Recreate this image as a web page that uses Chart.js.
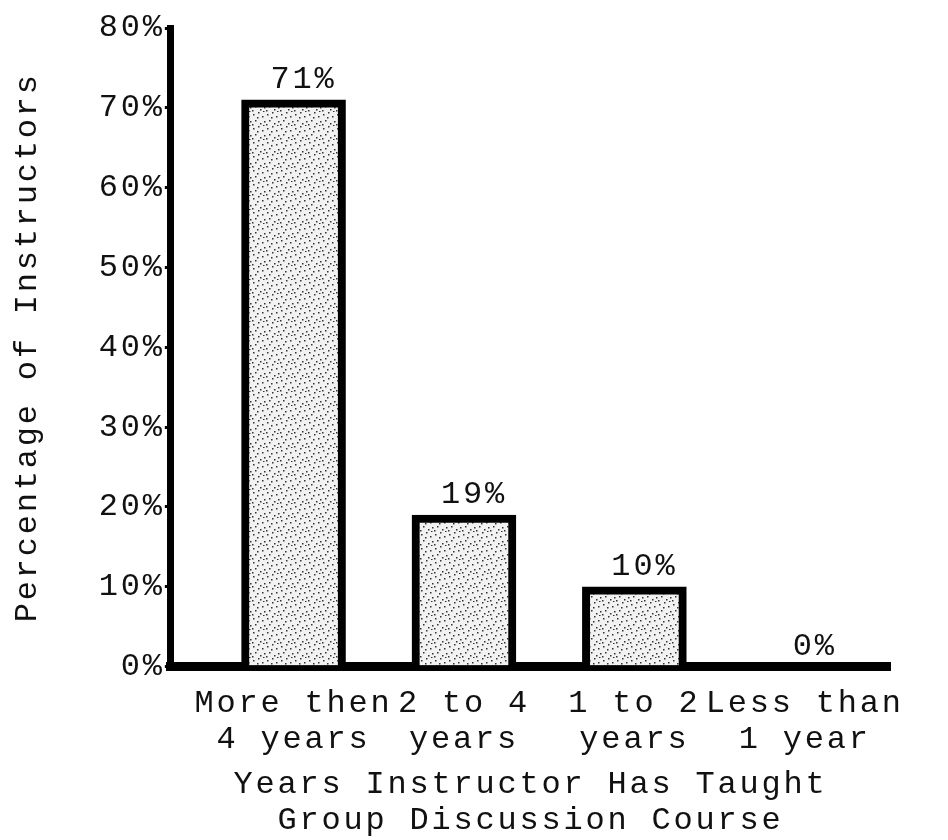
<!doctype html>
<html lang="en">
<head>
    <meta charset="utf-8">
    <title>Years Instructor Has Taught Group Discussion Course</title>
    <script src="https://cdn.jsdelivr.net/npm/chart.js"></script>
    <style>
        html, body { margin:0; padding:0; background:#fff; }
        #wrap { width:948px; height:840px; }
    </style>
</head>
<body>
<div id="wrap"><canvas id="chart-0"></canvas></div>
<script>
    // data
    const categories = [['More then','4 years'], ['2 to 4','years'], ['1 to 2','years'], ['Less than','1 year']];
    const percentValues = [71, 19, 10, 0];
    const yTicks = [0, 10, 20, 30, 40, 50, 60, 70, 80];
    const xTitle = ['Years Instructor Has Taught', 'Group Discussion Course'];
    const yTitle = 'Percentage of Instructors';

    const FONT = '"Liberation Mono", "DejaVu Sans Mono", monospace';
    const SPACING = '2.8px';
    Chart.defaults.font.family = FONT;
    Chart.defaults.font.size = 32;
    Chart.defaults.font.lineHeight = 1.12;
    Chart.defaults.color = '#111';

    // speckled fill like the scanned bars
    function makeStipple(){
        const c = document.createElement('canvas');
        c.width = 14; c.height = 14;
        const g = c.getContext('2d');
        g.fillStyle = '#f2f2f2';
        g.fillRect(0, 0, 14, 14);
        g.fillStyle = '#333';
        [[1,2],[6,0],[10,4],[3,8],[8,11],[12,9],[5,5],[0,12],[11,13]].forEach(([x,y]) => g.fillRect(x, y, 1.5, 1.5));
        return g.createPattern(c, 'repeat');
    }

    // wide typewriter look
    const typewriter = {
        id: 'typewriter',
        beforeLayout(chart){ chart.ctx.letterSpacing = SPACING; },
        beforeDraw(chart){ chart.ctx.letterSpacing = SPACING; }
    };

    const valueLabels = {
        id: 'valueLabels',
        afterDatasetsDraw(chart){
            const ctx = chart.ctx;
            const meta = chart.getDatasetMeta(0);
            ctx.save();
            ctx.letterSpacing = SPACING;
            ctx.font = '32px ' + FONT;
            ctx.fillStyle = '#111';
            ctx.textAlign = 'center';
            ctx.textBaseline = 'bottom';
            meta.data.forEach((bar, i) => {
                ctx.fillText(percentValues[i] + '%', bar.x + 10, bar.y - 4);
            });
            ctx.restore();
        }
    };

    const ctx = document.querySelector('canvas#chart-0');
    window.myChart0 = new Chart(ctx, {
        type: 'bar',
        data: {
            datasets: [{
                data: percentValues.map((v, i) => ({x: i, y: v})),
                backgroundColor: makeStipple(),
                borderColor: '#000',
                borderWidth: 8,
                barThickness: 104,
            }]
        },
        options: {
            responsive: true,
            maintainAspectRatio: false,
            animation: false,
            layout: {
                padding: {top: 28, right: 58, bottom: 2, left: 0}
            },
            plugins: {
                legend: {display: false},
                tooltip: {enabled: false},
            },
            scales: {
                x: {
                    type: 'linear',
                    min: -0.72,
                    max: 3.5,
                    offset: false,
                    afterBuildTicks: s => { s.ticks = categories.map((c, i) => ({value: i})); },
                    ticks: {
                        callback: v => categories[v],
                        padding: 19,
                        maxRotation: 0,
                        autoSkip: false,
                    },
                    grid: {display: false, drawTicks: false},
                    border: {display: true, color: '#000', width: 9},
                    title: {display: true, text: xTitle, padding: {top: -10, bottom: 0}},
                },
                y: {
                    min: 0,
                    max: 80,
                    afterBuildTicks: s => { s.ticks = yTicks.map(v => ({value: v})); },
                    ticks: {callback: v => v + '%', padding: 0},
                    grid: {drawOnChartArea: false, drawTicks: true, tickLength: 6, color: '#000', lineWidth: 3},
                    border: {color: '#000', width: 7},
                    title: {display: true, text: yTitle, padding: {top: 10, bottom: 53}},
                }
            }
        },
        plugins: [typewriter, valueLabels]
    });
</script>
</body>
</html>
